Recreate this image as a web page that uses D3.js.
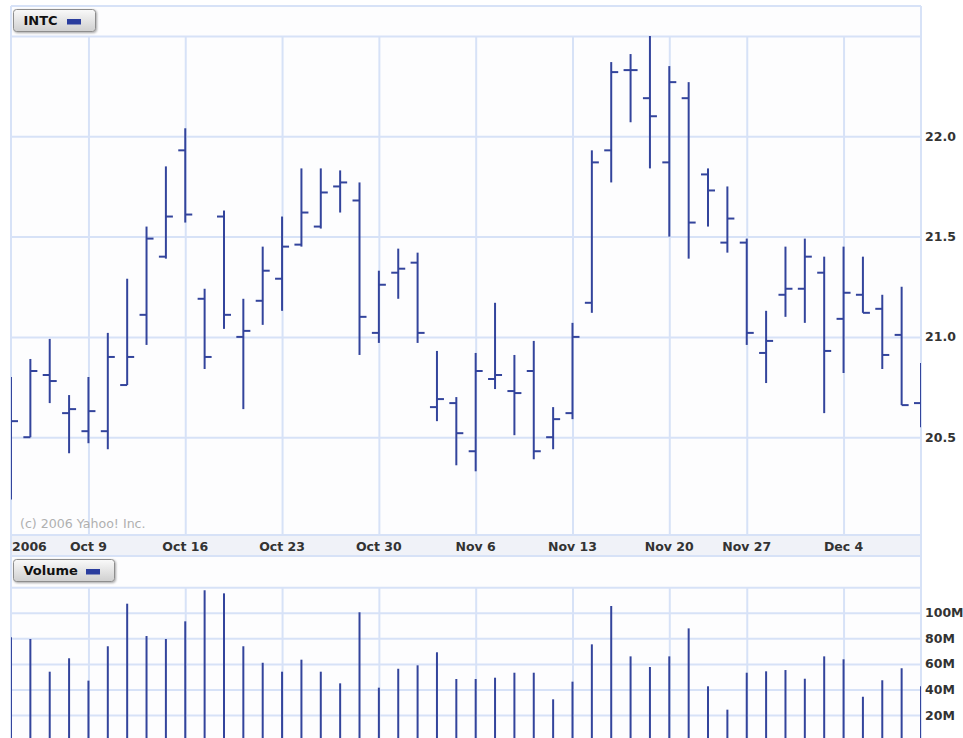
<!DOCTYPE html>
<html><head><meta charset="utf-8">
<script src="https://cdn.jsdelivr.net/npm/d3@7/dist/d3.min.js"></script>
<style>
html,body{margin:0;padding:0;background:#fff;}
svg{display:block;}
</style></head>
<body>
<svg id="chart" width="963" height="738"></svg>
<script>
// ---- data ----
const dates = ["Oct 3","Oct 4","Oct 5","Oct 6","Oct 9","Oct 10","Oct 11","Oct 12","Oct 13",
 "Oct 16","Oct 17","Oct 18","Oct 19","Oct 20","Oct 23","Oct 24","Oct 25","Oct 26","Oct 27",
 "Oct 30","Oct 31","Nov 1","Nov 2","Nov 3","Nov 6","Nov 7","Nov 8","Nov 9","Nov 10",
 "Nov 13","Nov 14","Nov 15","Nov 16","Nov 17","Nov 20","Nov 21","Nov 22","Nov 24",
 "Nov 27","Nov 28","Nov 29","Nov 30","Dec 1","Dec 4","Dec 5","Dec 6","Dec 7","Dec 8"];
const open  = [20.80,20.50,20.81,20.62,20.53,20.53,20.76,21.11,21.40,21.93,21.19,21.60,21.00,21.18,21.29,21.46,21.55,21.75,21.68,
 21.02,21.32,21.37,20.65,20.67,20.43,20.79,20.73,20.83,20.50,20.62,21.17,21.93,22.33,22.19,21.87,22.19,21.81,21.47,
 21.47,20.92,21.21,21.24,21.32,21.09,21.21,21.14,21.01,20.67];
const high  = [20.80,20.89,20.99,20.71,20.80,21.02,21.29,21.55,21.85,22.04,21.24,21.63,21.19,21.45,21.60,21.84,21.84,21.83,21.77,
 21.33,21.44,21.42,20.93,20.70,20.92,21.17,20.91,20.98,20.65,21.07,21.93,22.37,22.41,22.50,22.35,22.27,21.84,21.75,
 21.49,21.13,21.45,21.49,21.40,21.45,21.40,21.21,21.25,20.87];
const low   = [20.19,20.50,20.67,20.42,20.47,20.44,20.76,20.96,21.39,21.57,20.84,21.04,20.64,21.06,21.13,21.45,21.54,21.62,20.91,
 20.97,21.19,20.97,20.58,20.36,20.33,20.74,20.51,20.39,20.44,20.59,21.12,21.77,22.07,21.84,21.50,21.39,21.55,21.42,
 20.96,20.77,21.10,21.07,20.62,20.82,21.12,20.84,20.66,20.55];
const close = [20.58,20.83,20.78,20.64,20.63,20.90,20.90,21.49,21.60,21.61,20.90,21.11,21.03,21.33,21.45,21.62,21.72,21.77,21.10,
 21.26,21.34,21.02,20.69,20.52,20.83,20.81,20.72,20.43,20.59,21.00,21.87,22.32,22.33,22.10,22.27,21.57,21.73,21.59,
 21.02,20.98,21.24,21.40,20.93,21.22,21.12,20.91,20.66,20.62];
const volume = [80.8,79.5,53.9,64.4,46.9,73.8,107.1,81.8,79.5,93.3,117.6,115.2,73.8,60.9,53.9,63.3,53.9,44.8,100.4,
 41.4,56.2,58.9,69.1,48.2,48.2,49.2,53.1,53.1,32.3,46.1,75.3,105.3,65.9,57.6,65.9,87.8,42.5,24.2,
 53.1,54.2,55.2,48.4,65.9,63.6,34.3,47.2,56.6,42.5];
const weekTicks = ["Oct 9","Oct 16","Oct 23","Oct 30","Nov 6","Nov 13","Nov 20","Nov 27","Dec 4"];
const yearLabel = "2006";
const priceTicks = [20.5,21.0,21.5,22.0,22.5];
const volTicks = [20,40,60,80,100,120];
const symbol = "INTC";
const volTitle = "Volume";
const copyright = "(c) 2006 Yahoo! Inc.";

// ---- layout ----
const L = 11, R = 921;
const pTop = 36, pBot = 535;
const vTop = 587, vBot = 738;
const grid = "#d7e2f7", barCol = "#33449c", txtCol = "#333";
const font = "'DejaVu Sans', Verdana, sans-serif";

const svg = d3.select("#chart");
const data = dates.map((d,i)=>({d, o:open[i], h:high[i], l:low[i], c:close[i], v:volume[i]}));

const x = d3.scalePoint().domain(dates).range([L, R]).padding(0);
const y = d3.scaleLinear().domain([20.0, 22.5]).range([537.5, 36]);
const yv = d3.scaleLinear().domain([0, 120]).range([740.6, 587.2]);

// defs
const defs = svg.append("defs");
const grad = defs.append("linearGradient").attr("id","lg").attr("x1",0).attr("y1",0).attr("x2",0).attr("y2",1);
grad.append("stop").attr("offset","0%").attr("stop-color","#fafafa");
grad.append("stop").attr("offset","100%").attr("stop-color","#cfcfcf");
const flt = defs.append("filter").attr("id","sh").attr("x","-10%").attr("y","-20%").attr("width","130%").attr("height","160%");
flt.append("feDropShadow").attr("dx",1).attr("dy",1).attr("stdDeviation",1).attr("flood-color","#000").attr("flood-opacity",0.35);
defs.append("clipPath").attr("id","cp").append("rect").attr("x",L).attr("y",pTop).attr("width",R-L).attr("height",pBot-pTop);
defs.append("clipPath").attr("id","cv").append("rect").attr("x",L).attr("y",vTop).attr("width",R-L).attr("height",vBot-vTop);

// panel backgrounds
svg.append("rect").attr("x",L).attr("y",6).attr("width",R-L).attr("height",pBot-6).attr("fill","#fdfdfe");
svg.append("rect").attr("x",L).attr("y",556).attr("width",R-L).attr("height",738-556).attr("fill","#fdfdfe");
// x-axis band
svg.append("rect").attr("x",L).attr("y",pBot).attr("width",R-L).attr("height",21).attr("fill","#f0f2f8");

// price grid: horizontal via axis
const gy = svg.append("g").attr("transform",`translate(${L},0)`)
  .call(d3.axisRight(y).tickValues(priceTicks).tickSize(R-L).tickFormat(""));
gy.select(".domain").remove();
gy.selectAll("line").attr("stroke",grid).attr("stroke-width",2);
// price grid vertical
const gx = svg.append("g").attr("transform",`translate(0,${pBot})`)
  .call(d3.axisTop(x).tickValues(weekTicks).tickSize(pBot-pTop).tickFormat(""));
gx.select(".domain").remove();
gx.selectAll("line").attr("stroke",grid).attr("stroke-width",2);

// volume grid
const gvy = svg.append("g").attr("transform",`translate(${L},0)`)
  .call(d3.axisRight(yv).tickValues(volTicks).tickSize(R-L).tickFormat(""));
gvy.select(".domain").remove();
gvy.selectAll("line").attr("stroke",grid).attr("stroke-width",2);
const gvx = svg.append("g").attr("transform",`translate(0,${vBot})`)
  .call(d3.axisTop(x).tickValues(weekTicks).tickSize(vBot-vTop).tickFormat(""));
gvx.select(".domain").remove();
gvx.selectAll("line").attr("stroke",grid).attr("stroke-width",2);

// borders
const bl = (x1,y1,x2,y2)=>svg.append("line").attr("x1",x1).attr("y1",y1).attr("x2",x2).attr("y2",y2).attr("stroke",grid).attr("stroke-width",2);
bl(L,6,R,6); bl(L,6,L,738); bl(R,6,R,738);
bl(L,pBot,R,pBot); bl(L,556,R,556);

// x labels
const xl = svg.append("g").attr("font-family",font).attr("font-weight","bold").attr("font-size",12.5).attr("fill",txtCol);
xl.selectAll("text.wk").data(weekTicks).join("text").attr("class","wk")
  .attr("x",d=>x(d)).attr("y",551).attr("text-anchor","middle").text(d=>d);
xl.append("text").attr("x",L+1).attr("y",551).text(yearLabel);

// y labels
svg.append("g").attr("font-family",font).attr("font-weight","bold").attr("font-size",12.5).attr("fill",txtCol)
  .selectAll("text").data(priceTicks.filter(t=>t<22.5)).join("text")
  .attr("x",925).attr("y",d=>y(d)).attr("dy","0.36em").text(d=>d3.format(".1f")(d));
svg.append("g").attr("font-family",font).attr("font-weight","bold").attr("font-size",12.5).attr("fill",txtCol)
  .selectAll("text").data(volTicks.filter(t=>t<120)).join("text")
  .attr("x",925).attr("y",d=>yv(d)).attr("dy","0.36em").text(d=>d+"M");

// copyright
svg.append("text").attr("x",20).attr("y",528).attr("font-family",font).attr("font-size",12.6).attr("fill","#b0b0b0").text(copyright);

// OHLC bars
const gb = svg.append("g").attr("clip-path","url(#cp)").attr("stroke",barCol).attr("stroke-width",2);
const bars = gb.selectAll("g").data(data).join("g");
bars.append("line").attr("x1",d=>x(d.d)).attr("x2",d=>x(d.d)).attr("y1",d=>y(d.h)).attr("y2",d=>y(d.l));
bars.append("line").attr("x1",d=>x(d.d)-7).attr("x2",d=>x(d.d)).attr("y1",d=>y(d.o)).attr("y2",d=>y(d.o));
bars.append("line").attr("x1",d=>x(d.d)).attr("x2",d=>x(d.d)+7).attr("y1",d=>y(d.c)).attr("y2",d=>y(d.c));

// volume bars
svg.append("g").attr("clip-path","url(#cv)").selectAll("line").data(data).join("line")
  .attr("x1",d=>x(d.d)).attr("x2",d=>x(d.d)).attr("y1",d=>yv(d.v)).attr("y2",vBot)
  .attr("stroke",barCol).attr("stroke-width",2);

// legends
function legend(x0,y0,w,label,sw){
  const g = svg.append("g");
  g.append("rect").attr("x",x0).attr("y",y0).attr("width",w).attr("height",22).attr("rx",3)
    .attr("fill","url(#lg)").attr("stroke","#8e8e8e").attr("stroke-width",1).attr("filter","url(#sh)");
  g.append("text").attr("x",x0+10).attr("y",y0+15.5).attr("font-family",font).attr("font-weight","bold")
    .attr("font-size",13).attr("fill","#111").text(label);
  g.append("rect").attr("x",sw).attr("y",y0+9.5).attr("width",14).attr("height",5.5).attr("fill","#2a3d9e");
}
legend(13.5,9.5,82,symbol,67);
legend(13.5,559.5,101,volTitle,86);
</script>
</body></html>
